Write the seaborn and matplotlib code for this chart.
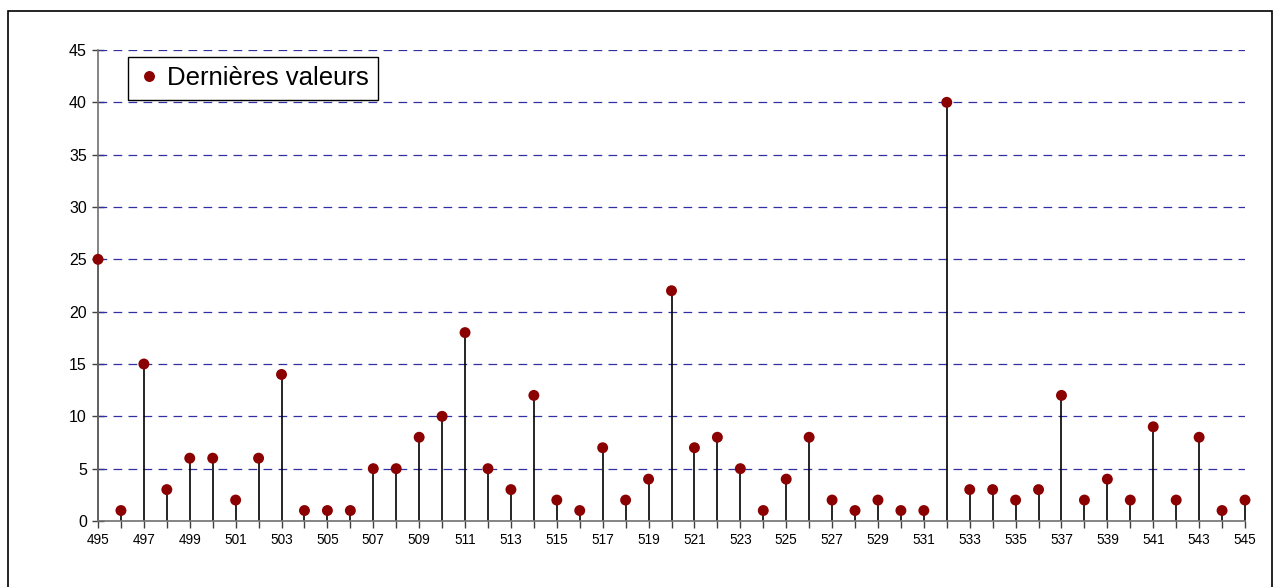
import matplotlib
matplotlib.use("Agg")
import matplotlib.pyplot as plt
import seaborn as sns
import pandas as pd
from matplotlib.patches import Rectangle

x_values = list(range(495, 546))
y_values = [25, 1, 15, 3, 6, 6, 2, 6, 14, 1, 1, 1, 5, 5, 8, 10, 18, 5, 3, 12,
            2, 1, 7, 2, 4, 22, 7, 8, 5, 1, 4, 8, 2, 1, 2, 1, 1, 40, 3, 3,
            2, 3, 12, 2, 4, 2, 9, 2, 8, 1, 2]
x_tick_labels = [str(v) for v in range(495, 546, 2)]
y_ticks = [0, 5, 10, 15, 20, 25, 30, 35, 40, 45]
series_name = "Dernières valeurs"

df = pd.DataFrame({"x": x_values, "y": y_values, "serie": series_name})

sns.set_theme(style="white")
plt.rcParams["font.family"] = ["Liberation Sans", "DejaVu Sans"]
plt.rcParams["text.color"] = "black"

fig = plt.figure(figsize=(12.74, 5.87), dpi=100)
ax = fig.add_axes([98 / 1274, 1 - 521 / 587, (1245 - 98) / 1274, (521 - 50) / 587])

# outer frame
fig.patches.append(Rectangle((8 / 1274, -0.05), (1272 - 8) / 1274, 1 - 11 / 587 + 0.05,
                             transform=fig.transFigure, fill=False,
                             edgecolor="black", linewidth=1.2))

# grid lines
for yv in y_ticks[1:]:
    ax.axhline(yv, color="#3030a0", linewidth=0.9, dashes=(7, 5), zorder=1)

ax.vlines(df["x"], 0, df["y"], color="black", linewidth=1.2, zorder=2, clip_on=False)
sns.scatterplot(data=df, x="x", y="y", hue="serie", palette=["#8b0000"],
                s=62, edgecolor="none", ax=ax, zorder=3, clip_on=False)

ax.set_xlim(495, 545)
ax.set_ylim(0, 45)
ax.set_xticks(x_values, minor=True)
ax.set_xticks(list(range(495, 546, 2)))
ax.set_xticklabels(x_tick_labels, fontsize=9.8, color="black")
ax.set_yticks(y_ticks)
ax.set_yticklabels([str(v) for v in y_ticks], fontsize=11.5, color="black")
ax.set_xlabel("")
ax.set_ylabel("")

for side in ["top", "right"]:
    ax.spines[side].set_visible(False)
for side in ["left", "bottom"]:
    ax.spines[side].set_color("#707070")
    ax.spines[side].set_linewidth(1.2)

ax.tick_params(axis="x", which="both", direction="out", length=5, width=1,
               color="#404040", pad=4, bottom=True)
ax.tick_params(axis="y", direction="inout", length=8, width=1, color="#404040",
               pad=4, left=True)

leg = ax.legend(loc="upper left", bbox_to_anchor=(30 / 1147, 1 - 7 / 471),
                borderaxespad=0, fontsize=18.5, frameon=True, fancybox=False,
                borderpad=0.36, handletextpad=0.25, handlelength=0.9, markerscale=1.0)
for t in leg.get_texts():
    t.set_color("black")
leg.get_frame().set_edgecolor("black")
leg.get_frame().set_linewidth(1.0)
leg.get_frame().set_facecolor("white")
leg.get_frame().set_alpha(1)

fig.savefig("out.png", dpi=100)
